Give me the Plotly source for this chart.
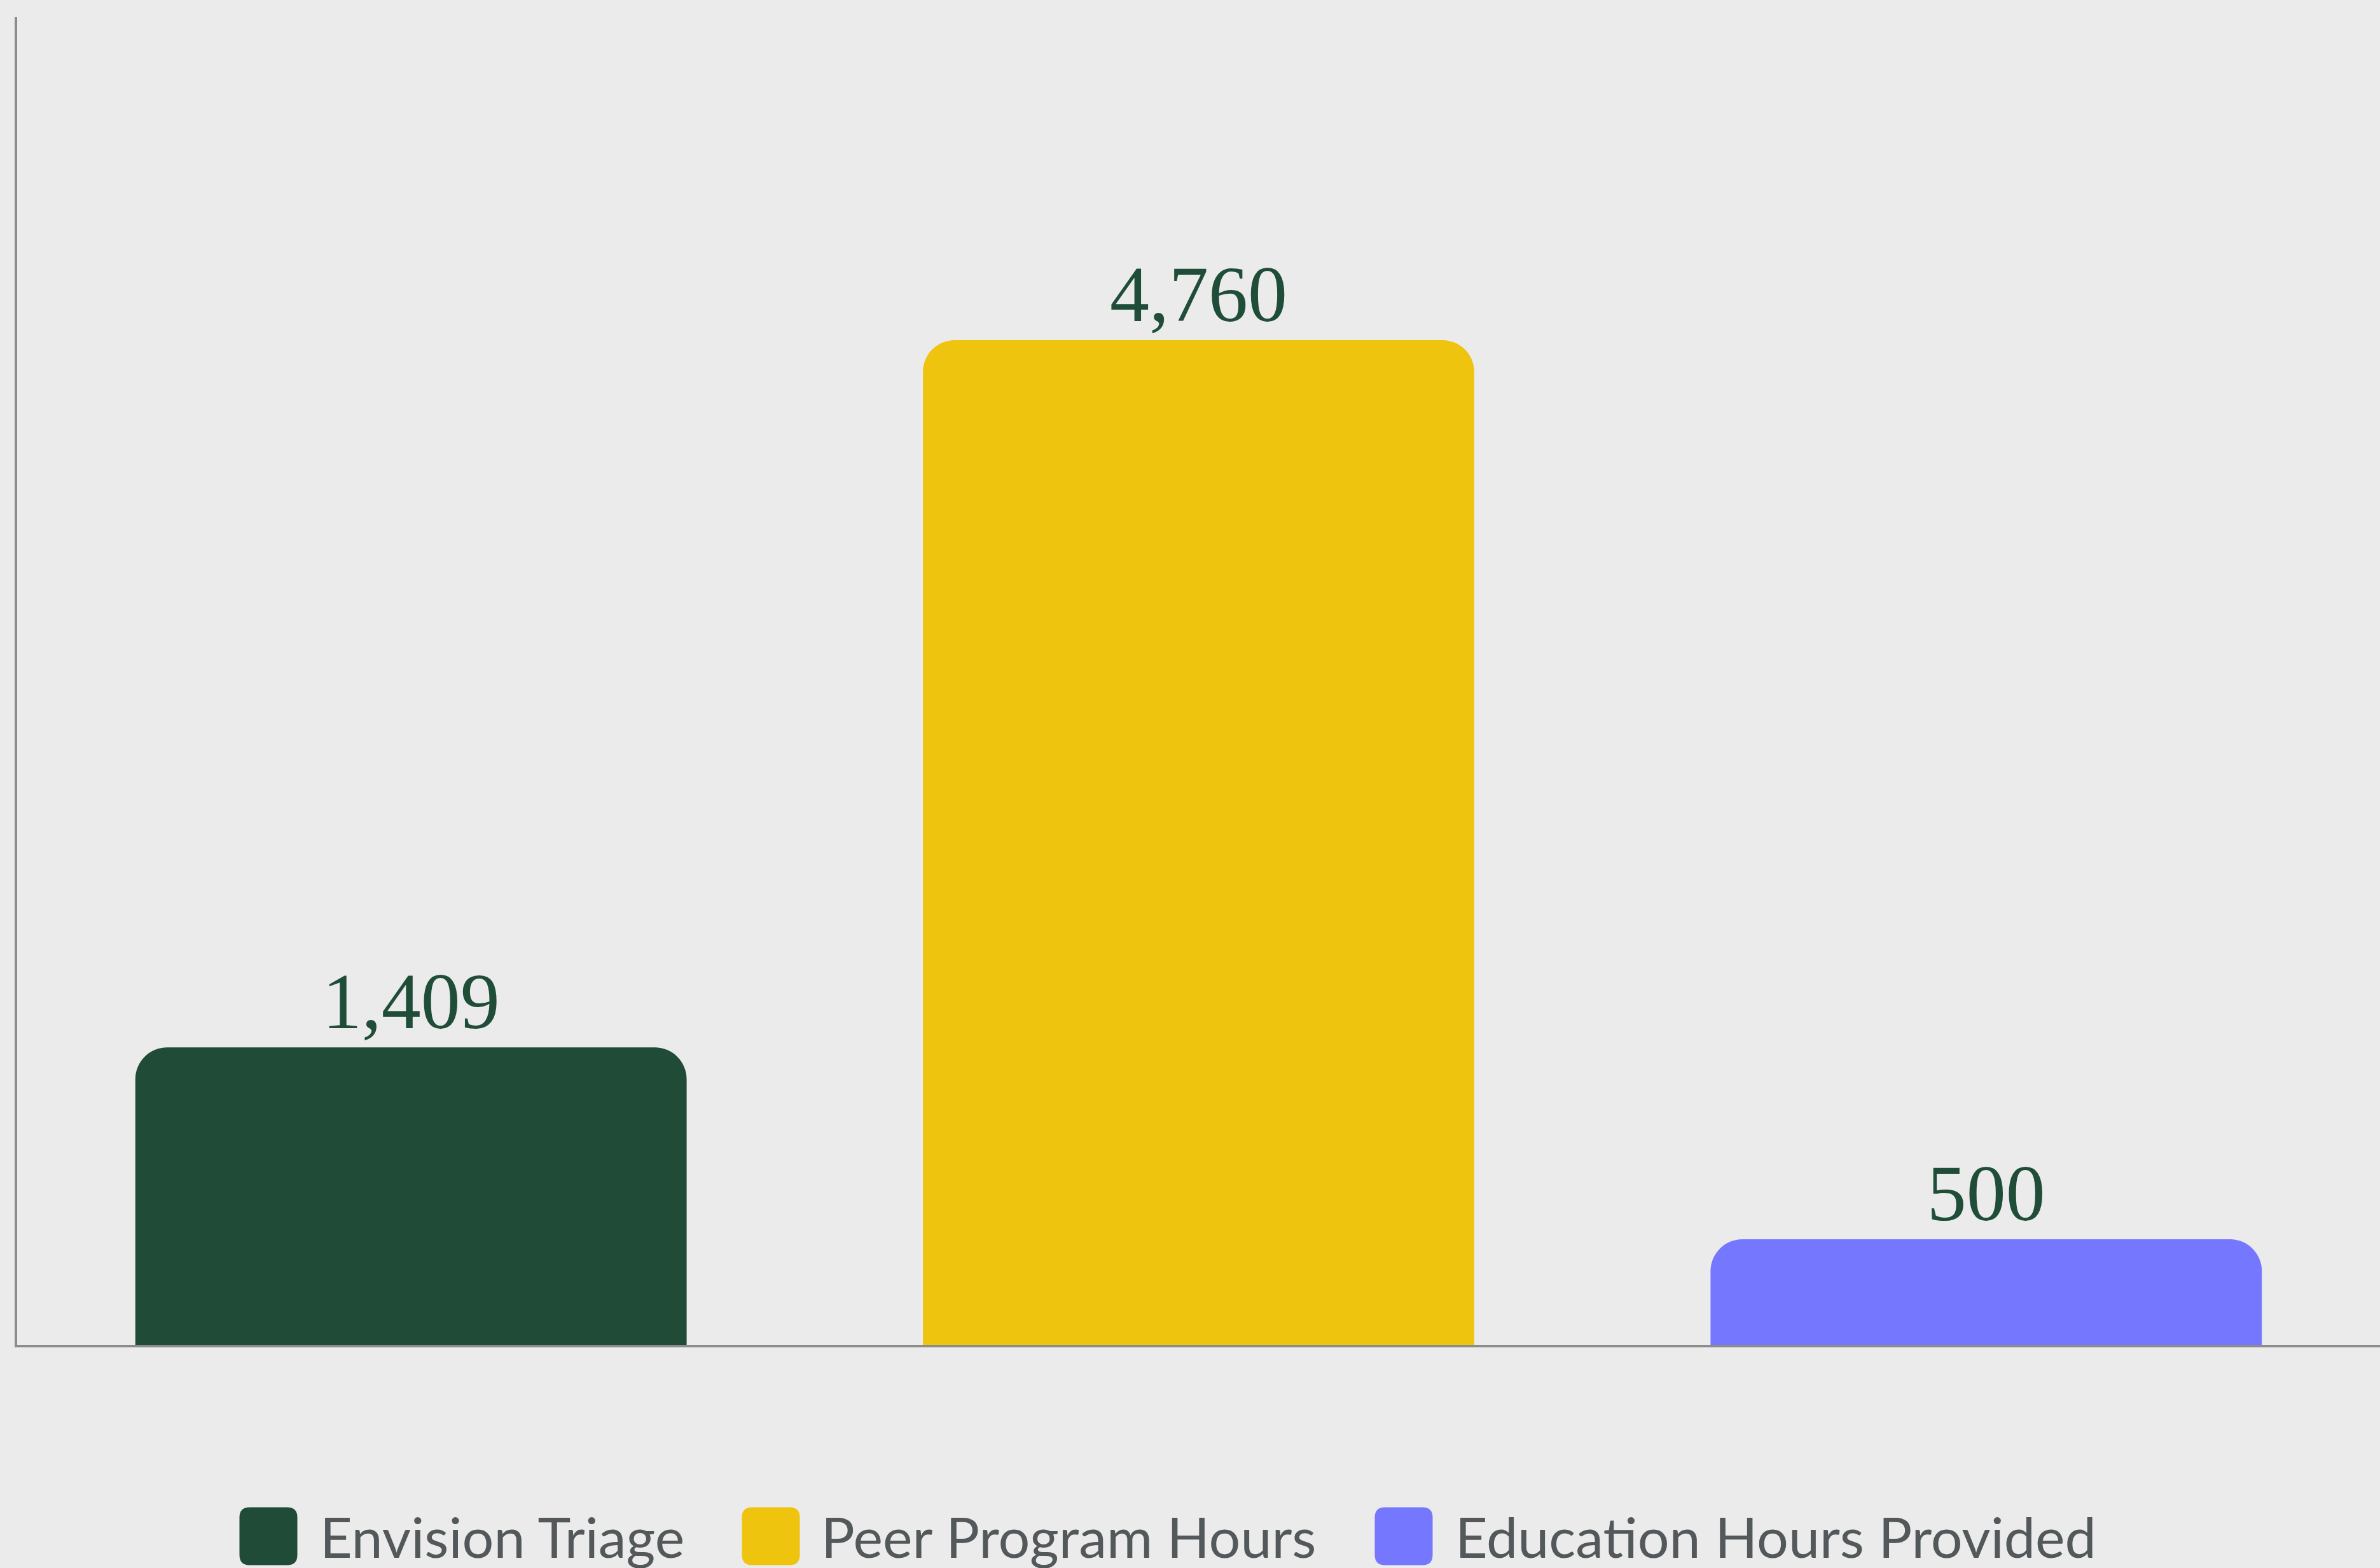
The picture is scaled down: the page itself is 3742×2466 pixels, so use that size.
import plotly.graph_objects as go

# ---- data ----
categories = ["Envision Triage", "Peer Program Hours", "Education Hours Provided"]
values = [1409, 4760, 500]
colors = ["#1f4b37", "#efc40f", "#7578ff"]

# ---- layout constants (pixels) ----
W, H = 3742, 2466
L, R, T, B = 27, 0, 27, 351
PW = W - L - R
PH = H - T - B

def px_x(px):
    return (px - L) / PW

def px_y(py):
    return (H - B - py) / PH

fig = go.Figure()
for cat, val, col in zip(categories, values, colors):
    fig.add_trace(go.Bar(
        x=[cat], y=[val], name=cat,
        marker=dict(color=col, cornerradius=50, line=dict(width=0)),
        text=[f"{val:,}"], textposition="outside",
        textfont=dict(family="Liberation Serif", size=124, color="#1f4d38"),
        cliponaxis=False, showlegend=False, hoverinfo="skip",
    ))

# custom legend (large rounded swatches + text)
legend_swatch_x = [422, 1212, 2207]
legend_text_x = [501, 1289, 2286]
legend_y = 2416
shapes = []
annotations = []
s = 45.5
r = 16
path = (f"M{-s+r},{-s} L{s-r},{-s} Q{s},{-s} {s},{-s+r} L{s},{s-r} Q{s},{s} {s-r},{s} "
        f"L{-s+r},{s} Q{-s},{s} {-s},{s-r} L{-s},{-s+r} Q{-s},{-s} {-s+r},{-s} Z")
for cat, col, sx, tx in zip(categories, colors, legend_swatch_x, legend_text_x):
    shapes.append(dict(
        type="path", xref="paper", yref="paper",
        xsizemode="pixel", ysizemode="pixel",
        xanchor=px_x(sx), yanchor=px_y(legend_y),
        path=path, fillcolor=col, line=dict(width=0), layer="above",
    ))
    annotations.append(dict(
        x=px_x(tx), y=px_y(legend_y), xref="paper", yref="paper",
        text=cat, showarrow=False, xanchor="left", yanchor="middle",
        font=dict(family="Lato", size=88, color="#53585a"),
    ))

fig.update_layout(
    width=W, height=H,
    margin=dict(l=L, r=R, t=T, b=B, pad=0),
    paper_bgcolor="#ebebeb", plot_bgcolor="#ebebeb",
    barmode="overlay", bargap=0.30,
    showlegend=False,
    xaxis=dict(showticklabels=False, showgrid=False, zeroline=False,
               showline=True, linecolor="#8c8c8c", linewidth=4, ticks="",
               range=[-0.5, 2.5]),
    yaxis=dict(showticklabels=False, showgrid=False, zeroline=False,
               showline=True, linecolor="#8c8c8c", linewidth=4, ticks="",
               range=[0, 6290]),
    shapes=shapes, annotations=annotations,
)

fig.write_html(
    "out.html",
    config={"displayModeBar": False},
    post_script="document.body.style.margin='0';document.body.style.overflow='hidden';document.body.style.background='#ebebeb';",
)
